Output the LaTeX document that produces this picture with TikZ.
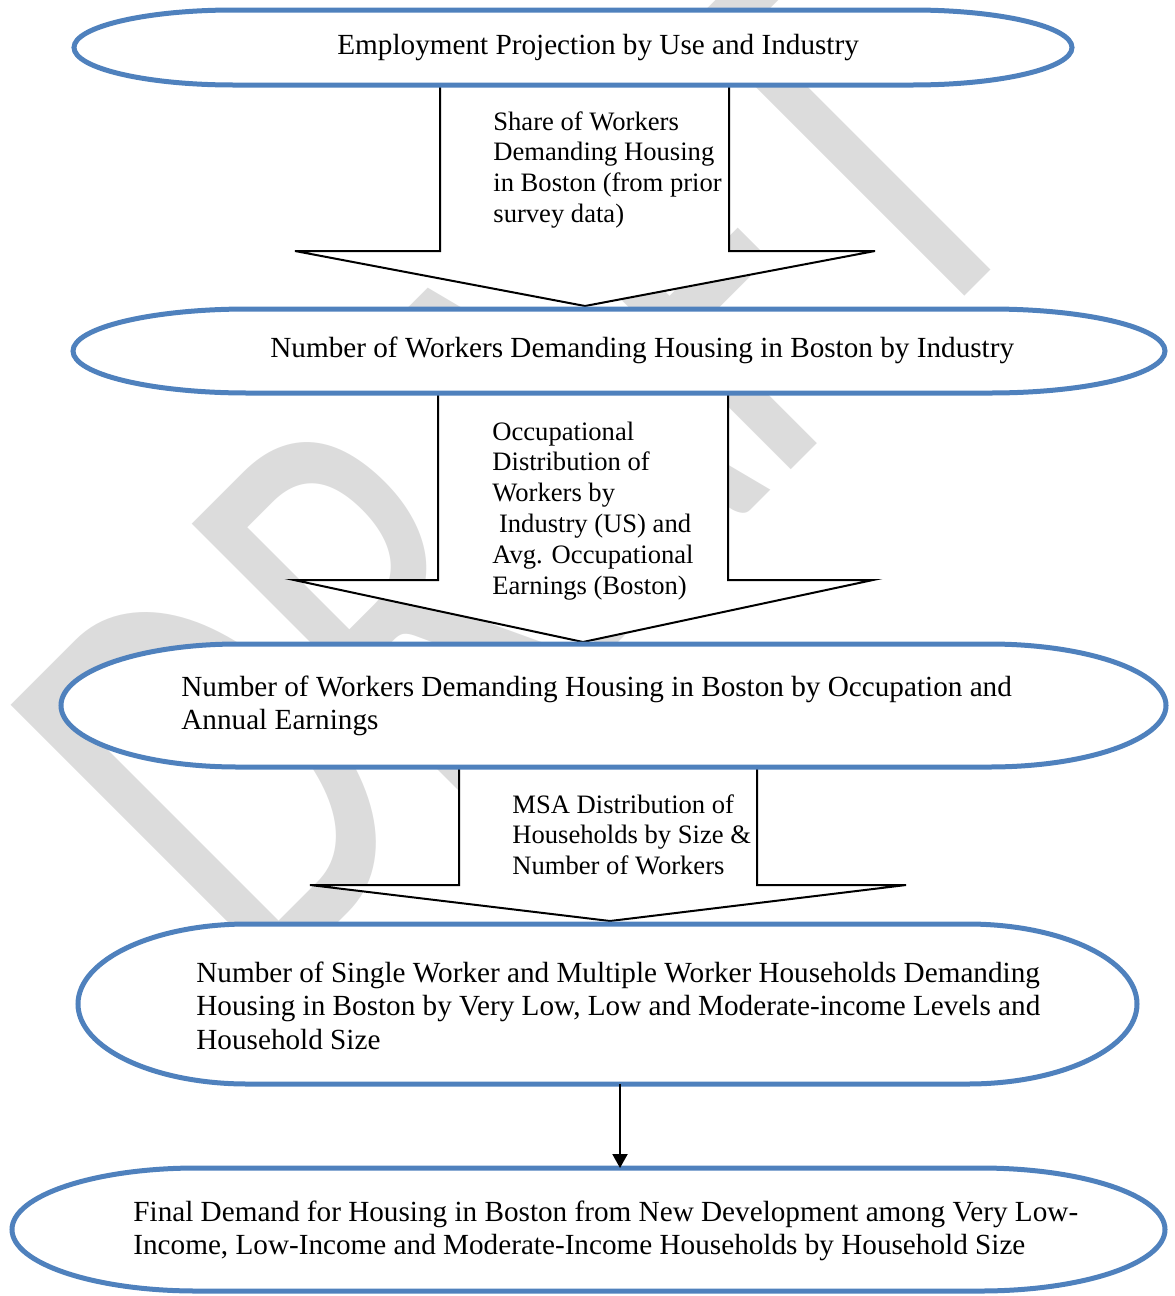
\documentclass[tikz,border=0pt]{standalone}
\usepackage{fontspec}
\setmainfont{Liberation Serif}
\newfontfamily\wmfont{Carlito}
\usetikzlibrary{arrows.meta,fit}
\definecolor{ofblue}{RGB}{79,129,189}
\definecolor{wmgray}{RGB}{220,220,220}
\pgfdeclarelayer{bg}
\pgfsetlayers{bg,main}
\tikzset{
  termarea/.style={inner sep=0pt, outer sep=0pt, draw=none},
  termline/.style={draw=ofblue, line width=2.5pt, fill=white},
  blockarrow/.style={draw=black, line width=1pt, fill=white, line join=miter},
  etext/.style={inner sep=0pt, anchor=base west, font=\fontsize{14.6pt}{16.9pt}\selectfont},
  btext/.style={inner sep=0pt, anchor=base west, font=\fontsize{13.3pt}{15.4pt}\selectfont},
  thinarrow/.style={draw=black, line width=1pt, -{Triangle[length=7pt,width=7.5pt]}},
  wm/.style={rotate=45, yscale=1.45, anchor=base west, inner sep=0pt, text=wmgray,
             font=\wmfont\fontsize{207pt}{207pt}\selectfont},
}
\newcommand\termshape[4]{%
  \pgfmathsetmacro\tsr{0.16*(#3-#1)}%
  \pgfmathsetmacro\tsh{0.5*(#4-#2)}%
  \pgfmathsetmacro\tsc{0.5*(#4+#2)}%
  \pgfmathsetmacro\tsa{#1+\tsr}%
  \pgfmathsetmacro\tsb{#3-\tsr}%
  \pgfmathsetmacro\tkr{0.5523*\tsr}%
  \pgfmathsetmacro\tkh{0.5523*\tsh}%
  \path[termline] (\tsa,#2) -- (\tsb,#2)
    .. controls (\tsb+\tkr,#2) and (#3,\tsc-\tkh) .. (#3,\tsc)
    .. controls (#3,\tsc+\tkh) and (\tsb+\tkr,#4) .. (\tsb,#4)
    -- (\tsa,#4)
    .. controls (\tsa-\tkr,#4) and (#1,\tsc+\tkh) .. (#1,\tsc)
    .. controls (#1,\tsc-\tkh) and (\tsa-\tkr,#2) .. (\tsa,#2) -- cycle;}
\begin{document}
\begin{tikzpicture}[x=0.5pt,y=-0.5pt]
\useasboundingbox (0,0) rectangle (1174,1296);
% named areas of the five terminator shapes
\node[termarea, fit={(74,10) (1072,85)}] (e1) {};
\node[termarea, fit={(73,309) (1165,393)}] (e2) {};
\node[termarea, fit={(61,644) (1166,767)}] (e3) {};
\node[termarea, fit={(78,924) (1137,1084)}] (e4) {};
\node[termarea, fit={(12,1168) (1165,1291)}] (e5) {};
\coordinate (c45) at (620,1100);
\begin{pgfonlayer}{bg}
  \node[wm] (wmark) at (263,998) {DRAFT};
  % block arrows
  \path[blockarrow] (440,86) -- (440,251) -- (295,251) -- (585,306) -- (875,251) -- (729,251) -- (729,86);
  \path[blockarrow] (438,394) -- (438,580) -- (294,580) -- (583,642) -- (873,580) -- (728,580) -- (728,394);
  \path[blockarrow] (459,769) -- (459,885) -- (310,885) -- (610,921) -- (906,885) -- (757,885) -- (757,769);
  \termshape{74}{10}{1072}{85}
  \termshape{73}{309}{1165}{393}
  \termshape{61}{644}{1166}{767}
  \termshape{78}{924}{1137}{1084}
  \termshape{12}{1168}{1165}{1291}
\end{pgfonlayer}
% texts
\node[etext] (t1) at (337,54.5) {Employment Projection by Use and Industry};
\node[etext] (t2) at (270,357) {Number of Workers Demanding Housing in Boston by Industry};
\node[etext] (t3) at (181,696) {\vtop{\hbox{Number of Workers Demanding Housing in Boston by Occupation and}\hbox{Annual Earnings}}};
\node[etext] (t4) at (196,982) {\vtop{\hbox{Number of Single Worker and Multiple Worker Households Demanding}\hbox{Housing in Boston by Very Low, Low and Moderate-income Levels and}\hbox{Household Size}}};
\node[etext] (t5) at (133,1221) {\vtop{\hbox{Final Demand for Housing in Boston from New Development among Very Low-}\hbox{Income, Low-Income and Moderate-Income Households by Household Size}}};
\node[btext] (l1) at (493,130) {\vtop{\hbox{Share of Workers}\hbox{Demanding Housing}\hbox{in Boston (from prior}\hbox{survey data)}}};
\node[btext] (l2) at (492,440) {\vtop{\hbox{Occupational}\hbox{Distribution of}\hbox{Workers by}\hbox{\ Industry (US) and}\hbox{Avg. Occupational}\hbox{Earnings (Boston)}}};
\node[btext] (l3) at (512,813) {\vtop{\hbox{MSA Distribution of}\hbox{Households by Size \&}\hbox{Number of Workers}}};
% thin connector
\draw[thinarrow] (e4.south -| c45) -- (e5.north -| c45);
\end{tikzpicture}
\end{document}
